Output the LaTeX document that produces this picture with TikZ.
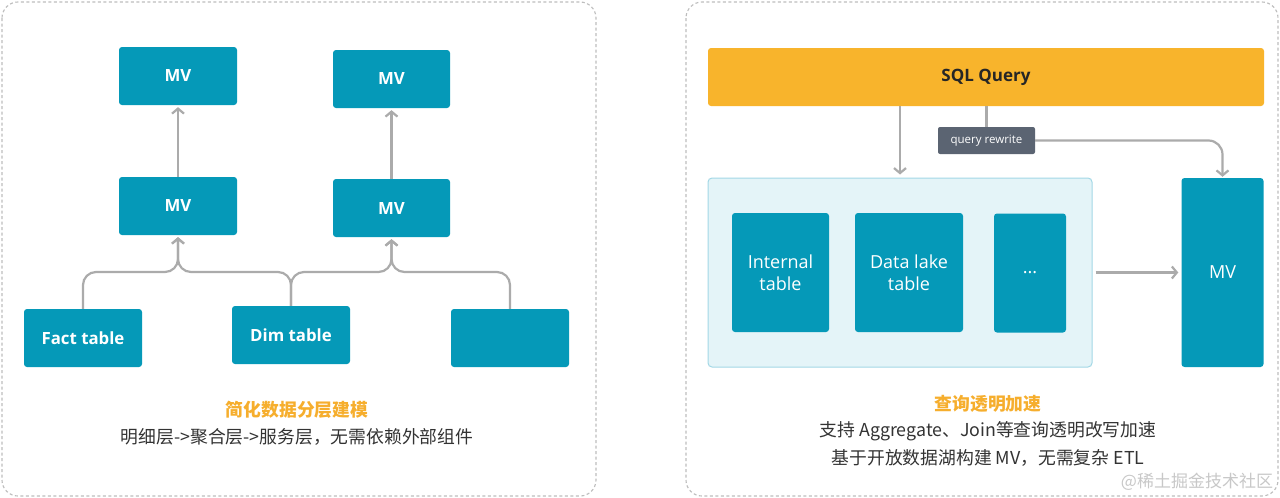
\documentclass[tikz,border=0pt]{standalone}
\usepackage{fontspec}
\setmainfont{Open Sans}
\newfontfamily\cjk{Noto Sans CJK SC}
\usetikzlibrary{arrows.meta,calc}
\definecolor{teal}{HTML}{0599B8}
\definecolor{sqlorange}{HTML}{F8B42C}
\definecolor{capor}{HTML}{F6AE2D}
\definecolor{arrgray}{HTML}{ABABAB}
\definecolor{qrgray}{HTML}{5B6472}
\definecolor{contfill}{HTML}{E4F4F8}
\definecolor{contline}{HTML}{A3D8E6}
\definecolor{dashgray}{HTML}{BDBDBD}
\definecolor{captext}{HTML}{333333}
\definecolor{wmgray}{HTML}{C8C8C8}
\tikzset{
  tbox/.style={fill=teal, rounded corners=3pt, text=white, inner sep=0pt, align=center},
  boldlbl/.style={font=\fontsize{16.8}{20}\selectfont\bfseries},
  reglbl/.style={font=\fontsize{18}{22}\selectfont},
  arr/.style={draw=arrgray, line width=2.2pt, -{Straight Barb[length=5pt,width=12pt]}},
  ln/.style={draw=arrgray, line width=2.2pt},
  panel/.style={draw=dashgray, line width=1.1pt, dash pattern=on 3pt off 2.5pt, rounded corners=16pt},
  captitle/.style={text=capor, font=\cjk\fontsize{17.8}{21}\selectfont\bfseries},
  capline/.style={text=captext, font=\cjk\fontsize{17.8}{21}\selectfont}
}
\begin{document}
\begin{tikzpicture}[x=1pt,y=-1pt]
\useasboundingbox (0,0) rectangle (1280,498);
\fill[white] (0,0) rectangle (1280,498);
% panels
\draw[panel] (2,2) rectangle (596,496);
\draw[panel] (686,2) rectangle (1278,496);

% left panel nodes
\node[tbox, boldlbl, minimum width=118pt, minimum height=58pt] (mv1) at (178,76) {MV};
\node[tbox, boldlbl, minimum width=117pt, minimum height=58pt] (mv2) at (391.5,79) {MV};
\node[tbox, boldlbl, minimum width=118pt, minimum height=58pt] (mv3) at (178,206) {MV};
\node[tbox, boldlbl, minimum width=117pt, minimum height=58pt] (mv4) at (391.5,208) {MV};
\node[tbox, boldlbl, minimum width=118pt, minimum height=58pt] (fact) at (83,338) {Fact table};
\node[tbox, boldlbl, minimum width=118pt, minimum height=58pt] (dim) at (291,335) {Dim table};
\node[tbox, boldlbl, minimum width=118pt, minimum height=58pt] (blank) at (510,338) {};

\draw[arr, shorten >=2pt] (mv3.north) -- (mv1.south);
\draw[arr, shorten >=2pt] (mv4.north) -- (mv2.south);
\coordinate (j1) at (178,272);
\coordinate (j2) at (391.5,272);
\draw[arr, rounded corners=13pt, shorten >=2pt] (fact.north) |- (j1) -- (mv3.south);
\draw[arr, rounded corners=13pt, shorten >=2pt] (dim.north) |- (j1) -- (mv3.south);
\draw[arr, rounded corners=13pt, shorten >=2pt] (dim.north) |- (j2) -- (mv4.south);
\draw[arr, rounded corners=13pt, shorten >=2pt] (blank.north) |- (j2) -- (mv4.south);

\node[captitle] (lt) at (297,410) {简化数据分层建模};
\node[capline] (l1) at (297,437) {明细层->聚合层->服务层，无需依赖外部组件};

% right panel
\node[tbox, fill=sqlorange, text=black!85, font=\fontsize{17}{21}\selectfont\bfseries, minimum width=556pt, minimum height=58pt] (sql) at (986,77) {SQL Query};
\node[fill=contfill, draw=contline, line width=1pt, rounded corners=4pt, minimum width=384pt, minimum height=189pt] (cont) at (900,272.5) {};
\node[tbox, reglbl, minimum width=97pt, minimum height=119pt] (it) at (780.5,272.5) {Internal\\[0pt]table};
\node[tbox, reglbl, minimum width=108pt, minimum height=119pt] (dl) at (909,272.5) {Data lake\\[0pt]table};
\node[tbox, reglbl, minimum width=72pt, minimum height=119pt] (dots) at (1030,273) {...};
\node[tbox, reglbl, minimum width=82pt, minimum height=189pt] (mvr) at (1222.5,272.5) {MV};
\node[fill=qrgray, rounded corners=2pt, text=white, font=\fontsize{11.5}{14}\selectfont, minimum width=97pt, minimum height=27pt, inner sep=0pt] (qr) at (986.5,140.5) {query rewrite};

\coordinate (x900) at (900,0);
\draw[arr, shorten >=3pt] (sql.south -| x900) -- (cont.north -| x900);
\draw[ln] (qr.north) -- (qr.north |- sql.south);
\draw[arr, rounded corners=14pt, shorten >=1pt] (qr.east) -| (mvr.north);
\draw[arr, shorten >=3pt] ($(cont.east)+(3,0)$) -- (mvr.west);

\node[captitle] (rt) at (988,404) {查询透明加速};
\node[capline] (r1) at (988,431) {支持 Aggregate、Join等查询透明改写加速};
\node[capline] (r2) at (988,458) {基于开放数据湖构建 MV，无需复杂 ETL};
\node[text=wmgray, font=\cjk\fontsize{17}{20}\selectfont] (wm) at (1197,482) {@稀土掘金技术社区};
\end{tikzpicture}
\end{document}
